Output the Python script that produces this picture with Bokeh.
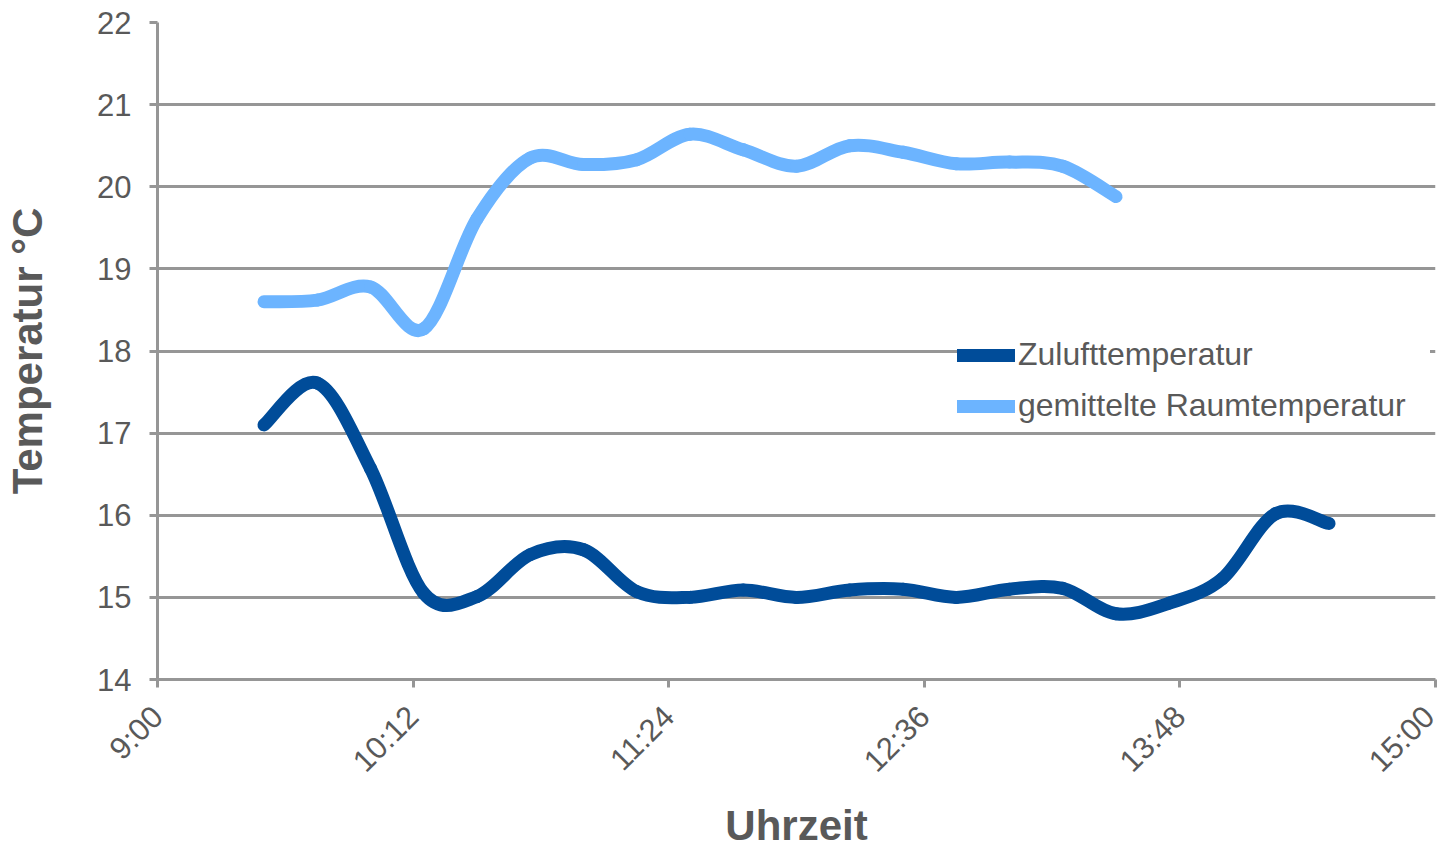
import math
from bokeh.plotting import figure
from bokeh.models import Legend, LegendItem, FixedTicker, Range1d
from bokeh.embed import file_html
from bokeh.resources import INLINE

# ---------------- data ----------------
times_zuluft = ["9:30", "9:45", "10:00", "10:15", "10:30", "10:45", "11:00",
                "11:15", "11:30", "11:45", "12:00", "12:15", "12:30", "12:45",
                "13:00", "13:15", "13:30", "13:45", "14:00", "14:15", "14:30"]
zuluft = [17.10, 17.61, 16.57, 15.05, 15.01, 15.52, 15.58,
          15.07, 15.00, 15.09, 15.00, 15.09, 15.10, 15.00,
          15.10, 15.11, 14.80, 14.93, 15.23, 16.02, 15.90]

times_raum = ["9:30", "9:45", "10:00", "10:15", "10:30", "10:45", "11:00",
              "11:15", "11:30", "11:45", "12:00", "12:15", "12:30", "12:45",
              "13:00", "13:15", "13:30"]
raum = [18.60, 18.62, 18.78, 18.27, 19.61, 20.35, 20.27,
        20.33, 20.64, 20.45, 20.25, 20.50, 20.42, 20.28,
        20.30, 20.25, 19.88]

x_tick_labels = ["9:00", "10:12", "11:24", "12:36", "13:48", "15:00"]
y_ticks = [14, 15, 16, 17, 18, 19, 20, 21, 22]

series_names = ["Zulufttemperatur", "gemittelte Raumtemperatur"]
series_colors = ["#004C99", "#6CB4FF"]

TEXT = "#595959"
GRID = "#969696"
FONT = "Liberation Sans"


def to_min(s):
    h, m = s.split(":")
    return int(h) * 60 + int(m)


def smooth_segments(xs, ys):
    """Bezier segments through the data points (Excel-style smoothed line)."""
    n = len(xs)
    d = dict(x0=[], y0=[], x1=[], y1=[], cx0=[], cy0=[], cx1=[], cy1=[])
    for i in range(n - 1):
        ip = max(i - 1, 0)
        inn = min(i + 2, n - 1)
        d["x0"].append(xs[i]); d["y0"].append(ys[i])
        d["x1"].append(xs[i + 1]); d["y1"].append(ys[i + 1])
        d["cx0"].append(xs[i] + (xs[i + 1] - xs[ip]) / 6.0)
        d["cy0"].append(ys[i] + (ys[i + 1] - ys[ip]) / 6.0)
        d["cx1"].append(xs[i + 1] - (xs[inn] - xs[i]) / 6.0)
        d["cy1"].append(ys[i + 1] - (ys[inn] - ys[i]) / 6.0)
    return d


x_ticks = [to_min(t) for t in x_tick_labels]

p = figure(width=1441, height=852, output_backend="svg", toolbar_location=None,
           x_range=Range1d(x_ticks[0], x_ticks[-1]), y_range=Range1d(y_ticks[0], y_ticks[-1]),
           min_border_left=157, min_border_right=6, min_border_top=22, min_border_bottom=171)
p.outline_line_color = None
p.background_fill_color = "white"
p.border_fill_color = "white"

# grid
p.xgrid.grid_line_color = None
p.ygrid.grid_line_color = GRID
p.ygrid.grid_line_width = 3
p.ygrid.ticker = FixedTicker(ticks=y_ticks)

# axes
for ax in (p.xaxis[0], p.yaxis[0]):
    ax.axis_line_color = GRID
    ax.axis_line_width = 3
    ax.major_tick_line_color = GRID
    ax.major_tick_line_width = 3
    ax.major_tick_out = 8
    ax.major_tick_in = 0
    ax.minor_tick_line_color = None
    ax.major_label_text_color = TEXT
    ax.major_label_text_font = FONT
    ax.major_label_text_font_size = "31px"
    ax.axis_label_text_color = TEXT
    ax.axis_label_text_font = FONT
    ax.axis_label_text_font_style = "bold"
    ax.axis_label_text_font_size = "42px"

p.yaxis.ticker = FixedTicker(ticks=y_ticks)
p.yaxis.major_label_standoff = 18
p.yaxis.axis_label = "Temperatur °C"
p.yaxis.axis_label_standoff = 43

p.xaxis.ticker = FixedTicker(ticks=x_ticks)
p.xaxis.major_label_overrides = {t: lab for t, lab in zip(x_ticks, x_tick_labels)}
p.xaxis.major_label_orientation = math.pi / 4
p.xaxis.major_label_standoff = 24
p.xaxis.axis_label = "Uhrzeit"
p.xaxis.axis_label_standoff = 8

# series
items = []
for name, color, tlist, vals in [(series_names[0], series_colors[0], times_zuluft, zuluft),
                                 (series_names[1], series_colors[1], times_raum, raum)]:
    xs = [to_min(t) for t in tlist]
    seg = smooth_segments(xs, vals)
    r = p.bezier(source=seg, x0="x0", y0="y0", x1="x1", y1="y1",
                 cx0="cx0", cy0="cy0", cx1="cx1", cy1="cy1",
                 line_color=color, line_width=13, line_cap="round", line_join="round")
    items.append(LegendItem(label=name, renderers=[r]))

legend = Legend(items=items, location=(800, 255), orientation="vertical",
                glyph_width=58, glyph_height=36, label_height=36, label_standoff=3,
                label_width=412, spacing=14, padding=6, margin=0,
                label_text_font=FONT, label_text_font_size="32px", label_text_color=TEXT,
                background_fill_color="white", background_fill_alpha=1.0,
                border_line_color=None)
p.add_layout(legend)

open("out.html", "w").write(file_html(p, INLINE))
